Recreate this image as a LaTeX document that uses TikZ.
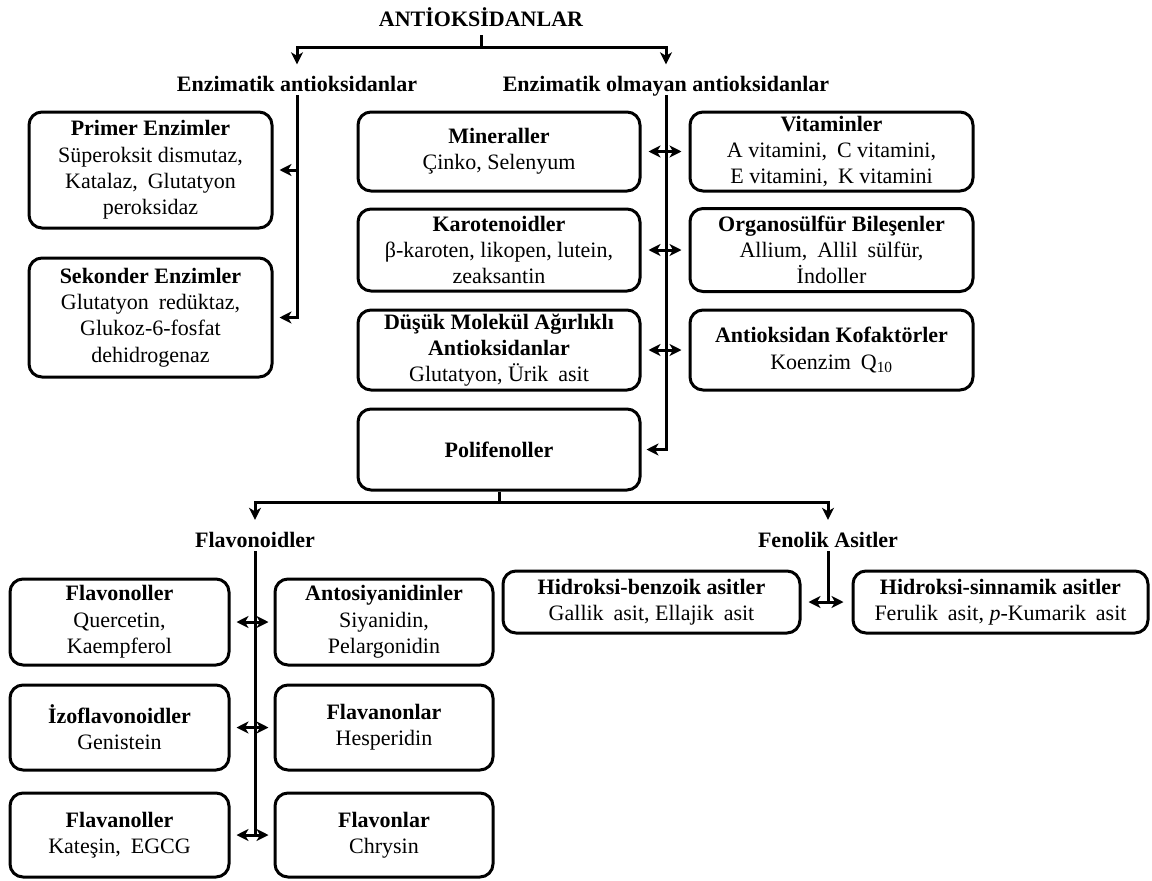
\documentclass[tikz,border=0pt]{standalone}
\usepackage{fontspec}
\setmainfont{Liberation Serif}
\usetikzlibrary{arrows.meta,calc}
\newcommand\wsp{\hspace{0.45em}}
\begin{document}
\begin{tikzpicture}[x=1pt,y=-1pt,
  every node/.style={font=\fontsize{22}{26.3}\selectfont, inner sep=0pt},
  box/.style={draw, line width=3pt, rounded corners=13pt, align=center},
  head/.style={font=\fontsize{22}{26.3}\selectfont\bfseries, anchor=base, text height=15pt, text depth=4pt},
  conn/.style={line width=3pt},
  tip/.tip={Stealth[length=12pt,width=12pt,inset=3.5pt]},
  arr/.style={conn, -tip},
  darr/.style={conn, tip-tip},
]
\useasboundingbox (0,0) rectangle (1152,881);

% headings
\node[head] (title) at (481,26) {ANTİOKSİDANLAR};
\node[head] (enz) at (297,91) {Enzimatik antioksidanlar};
\node[head] (nenz) at (666,91) {Enzimatik olmayan antioksidanlar};
\node[head] (flavh) at (255,547) {Flavonoidler};
\node[head] (fenh) at (828,547) {Fenolik Asitler};

% enzymatic boxes
\node[box, minimum width=243pt, minimum height=116pt] (prim) at (150.5,170)
  {\textbf{Primer Enzimler}\\Süperoksit dismutaz,\\Katalaz,\wsp Glutatyon\\peroksidaz};
\node[box, minimum width=243pt, minimum height=119pt] (sek) at (150.5,317.5)
  {\textbf{Sekonder Enzimler}\\Glutatyon\wsp redüktaz,\\Glukoz-6-fosfat\\dehidrogenaz};

% non-enzymatic boxes
\node[box, minimum width=282pt, minimum height=79pt] (min) at (499,151.5)
  {\textbf{Mineraller}\\Çinko, Selenyum};
\node[box, minimum width=282pt, minimum height=82pt] (kar) at (499,250)
  {\textbf{Karotenoidler}\\β-karoten, likopen, lutein,\\zeaksantin};
\node[box, minimum width=282pt, minimum height=80pt] (dus) at (499,350)
  {\textbf{Düşük Molekül Ağırlıklı}\\\textbf{Antioksidanlar}\\Glutatyon, Ürik\wsp asit};
\node[box, minimum width=282pt, minimum height=81pt] (pol) at (499,449.5)
  {\textbf{Polifenoller}};
\node[box, minimum width=283pt, minimum height=79pt] (vit) at (831.5,151.5)
  {\textbf{Vitaminler}\\A vitamini,\wsp C vitamini,\\E vitamini,\wsp K vitamini};
\node[box, minimum width=283pt, minimum height=83pt] (org) at (831.5,250)
  {\textbf{Organosülfür Bileşenler}\\Allium,\wsp Allil\wsp sülfür,\\İndoller};
\node[box, minimum width=283pt, minimum height=80pt] (kof) at (831.5,350)
  {\textbf{Antioksidan Kofaktörler}\\Koenzim\wsp Q\textsubscript{10}};

% flavonoid boxes
\node[box, minimum width=219pt, minimum height=86pt] (fln) at (119.5,622)
  {\textbf{Flavonoller}\\Quercetin,\\Kaempferol};
\node[box, minimum width=218pt, minimum height=86pt] (ant) at (384,622)
  {\textbf{Antosiyanidinler}\\Siyanidin,\\Pelargonidin};
\node[box, minimum width=219pt, minimum height=85pt] (izo) at (119.5,727.5)
  {\textbf{İzoflavonoidler}\\Genistein};
\node[box, minimum width=218pt, minimum height=85pt] (fnn) at (384,727.5)
  {\textbf{Flavanonlar}\\Hesperidin};
\node[box, minimum width=219pt, minimum height=84pt] (flv) at (119.5,835)
  {\textbf{Flavanoller}\\Kateşin,\wsp EGCG};
\node[box, minimum width=218pt, minimum height=84pt] (fon) at (384,835)
  {\textbf{Flavonlar}\\Chrysin};

% phenolic acid boxes
\node[box, minimum width=297pt, minimum height=62pt] (hbz) at (651.5,602)
  {\textbf{Hidroksi-benzoik asitler}\\Gallik\wsp asit, Ellajik\wsp asit};
\node[box, minimum width=295pt, minimum height=62pt] (hsn) at (1000.5,602)
  {\textbf{Hidroksi-sinnamik asitler}\\Ferulik\wsp asit, \textit{p}-Kumarik\wsp asit};

% connectors: top
\coordinate (t1) at ($(title.south)+(0,17)$);
\draw[conn, shorten <=5pt] (title.south) -- (t1);
\draw[arr, shorten >=11.5pt] (t1) -| (enz.north);
\draw[arr, shorten >=11.5pt] (t1) -| (nenz.north);

% enzymatic branch
\draw[arr, shorten >=6pt] (enz.south) |- (sek.east);
\draw[arr, shorten >=6pt] (enz.south |- prim.east) -- (prim.east);

% non-enzymatic branch
\draw[arr, shorten >=5pt] (nenz.south) |- (pol.east);
\draw[darr, shorten <=7pt, shorten >=7pt] (min.east) -- (vit.west);
\draw[darr, shorten <=7pt, shorten >=7pt] (kar.east) -- (kar.east -| org.west);
\draw[darr, shorten <=7pt, shorten >=7pt] (dus.east) -- (kof.west);

% polyphenol branch
\coordinate (p1) at ($(pol.south)+(0,10.5)$);
\draw[conn] (pol.south) -- (p1);
\draw[arr, shorten >=12pt] (p1) -| (flavh.north);
\draw[arr, shorten >=12pt] (p1) -| (fenh.north);

% flavonoids
\draw[conn] (flavh.south) -- (flavh.south |- flv.east);
\draw[darr, shorten <=6pt, shorten >=5pt] (fln.east) -- (ant.west);
\draw[darr, shorten <=6pt, shorten >=5pt] (izo.east) -- (fnn.west);
\draw[darr, shorten <=6pt, shorten >=5pt] (flv.east) -- (fon.west);

% phenolic acids
\draw[conn] (fenh.south) -- (fenh.south |- hbz.east);
\draw[darr, shorten <=7pt, shorten >=8pt] (hbz.east) -- (hsn.west);
\end{tikzpicture}
\end{document}
